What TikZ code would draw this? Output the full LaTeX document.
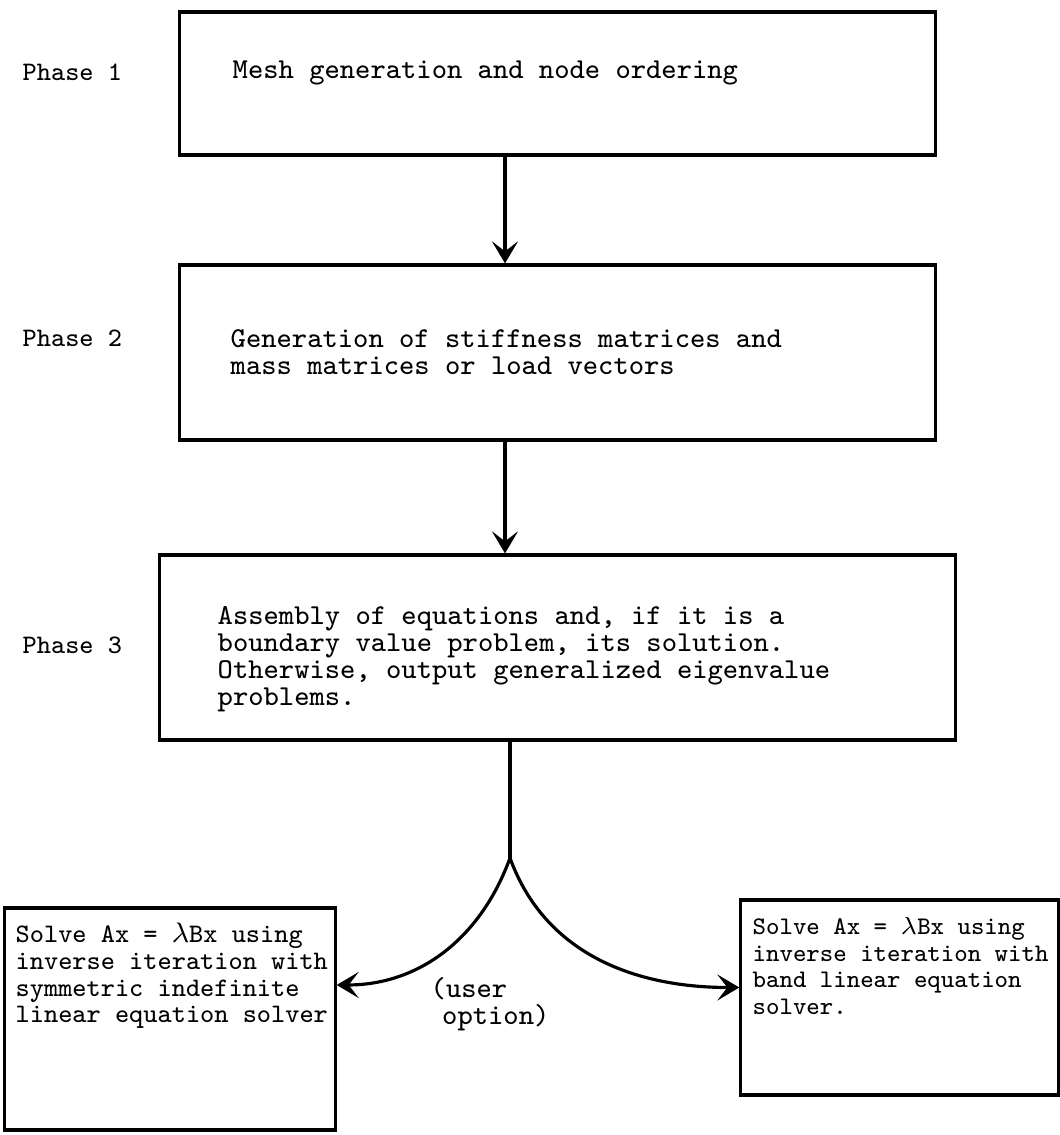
\documentclass[tikz,border=0pt]{standalone}
\usepackage{tikz}
\usepackage{amsmath}
\usetikzlibrary{arrows.meta}

\newcommand{\typed}{\ttfamily\fontsize{8.2}{7.7}\selectfont}
\tikzset{
  box/.style={draw, line width=0.9pt, inner sep=0pt},
  txt/.style={font=\typed, align=left, anchor=west, inner sep=0pt},
  smalltxt/.style={txt, font=\ttfamily\fontsize{#1}{7.6}\selectfont},
  phase/.style={txt, font=\ttfamily\fontsize{7.6}{7.6}\selectfont},
  flow/.style={line width=0.9pt, -{Stealth[length=2.2mm,width=2.6mm,inset=1mm]}},
}

\begin{document}
\begin{tikzpicture}[x=0.01cm,y=-0.01cm]
\useasboundingbox (0,0) rectangle (1060,1135);

\coordinate (spine) at (505,0);
\coordinate (fork) at (510,858);

%%%%%%%%%%%%% phase 1
\node[box, minimum width=7.55cm, minimum height=1.43cm] (b1) at (557.5,83.5) {};
\node[txt] (t1) at (232,73) {Mesh generation and node ordering};
\node[phase] (p1) at (22,72) {Phase 1};
%%%%%%%%%%%%% phase 2
\node[box, minimum width=7.55cm, minimum height=1.75cm] (b2) at (557.5,352.5) {};
\node[txt] (t2) at (230,352) {Generation of stiffness matrices and\\mass matrices or load vectors};
\node[phase] (p2) at (22,338) {Phase 2};
%%%%%%%%%%%%% phase 3
\node[box, minimum width=7.95cm, minimum height=1.85cm] (b3) at (557.5,647.5) {};
\node[txt] (t3) at (217,659) {Assembly of equations and, if it is a\\boundary value problem, its solution.\\Otherwise, output generalized eigenvalue\\problems.};
\node[phase] (p3) at (22,645) {Phase 3};
%%%%%%%%%%%%% solvers
\node[box, minimum width=3.3cm, minimum height=2.22cm] (b4) at (170,1019) {};
\node[smalltxt=7.6] (t4) at (15,976) {Solve Ax = $\lambda$Bx using\\inverse iteration with\\symmetric indefinite\\linear equation solver};
\node[box, minimum width=3.17cm, minimum height=1.95cm] (b5) at (899.5,997.5) {};
\node[smalltxt=7.2] (t5) at (752,966) {Solve Ax = $\lambda$Bx using\\inverse iteration with\\band linear equation\\solver.};
\node[txt] (opt) at (430,1004) {(user\\\hspace*{0.4em}option)};

%%%%%%%%%%%%%%%%%%%%%%%%%%%%
\draw[flow] (b1.south -| spine) -- (b2.north -| spine);
\draw[flow] (b2.south -| spine) -- (b3.north -| spine);
\draw[line width=0.9pt] (b3.south -| fork) -- (fork);
\draw[flow] (fork) to[out=-110,in=0] ([yshift=0.34cm]b4.east);
\draw[flow] (fork) to[out=-70,in=180] ([yshift=0.1cm]b5.west);

\end{tikzpicture}
\end{document}
